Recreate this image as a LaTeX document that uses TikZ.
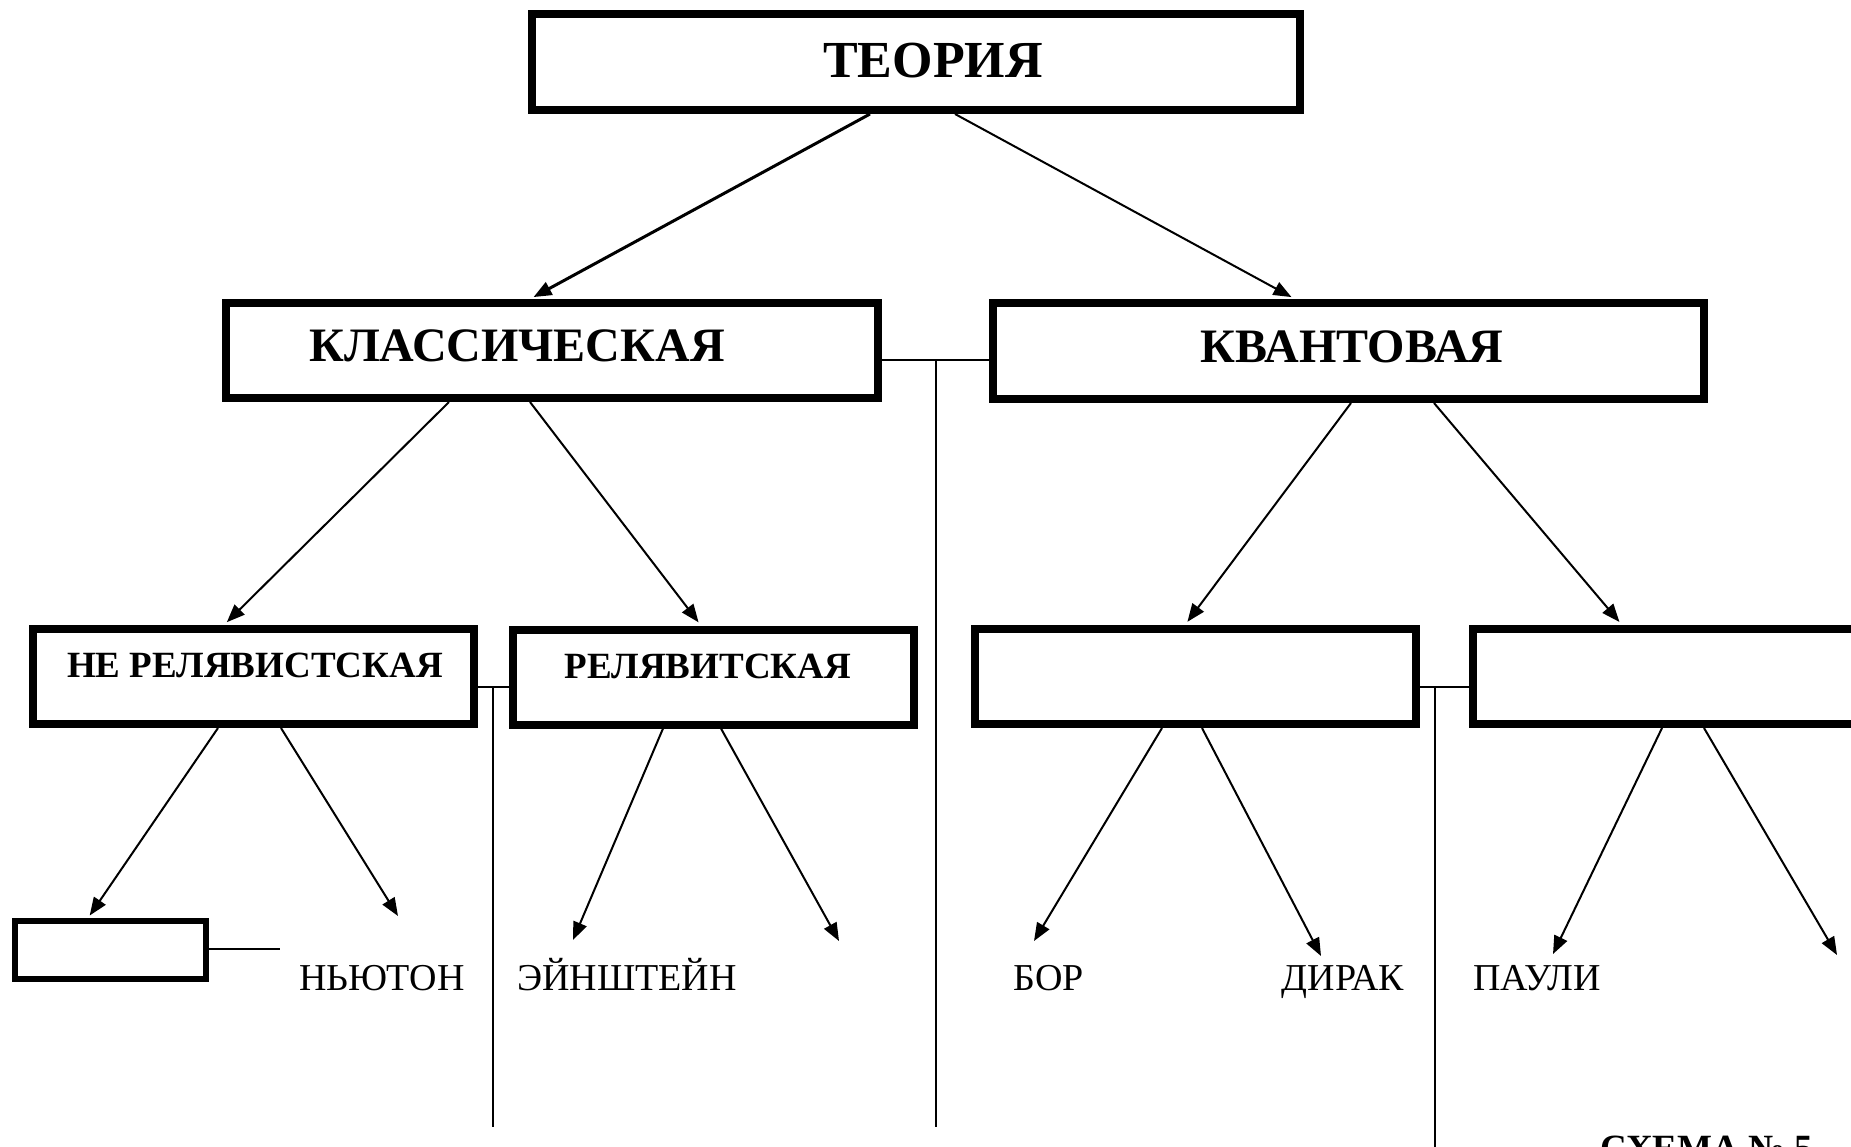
\documentclass[tikz,border=0pt]{standalone}
\usepackage{fontspec}
\setmainfont{Liberation Serif}
\usetikzlibrary{arrows.meta}
\begin{document}
\begin{tikzpicture}[x=1pt,y=-1pt,
  bigbox/.style={draw, line width=8pt, rectangle, inner sep=0pt},
  smallbox/.style={draw, line width=6pt, rectangle, inner sep=0pt},
  link/.style={line width=2pt},
  arr/.style={line width=2pt, shorten >=4pt, -{Triangle[length=18pt,width=14pt]}},
  freearr/.style={line width=2pt, -{Triangle[length=18pt,width=14pt]}},
  toplabel/.style={inner sep=0pt, anchor=base, font=\fontsize{52}{56}\selectfont\bfseries},
  midlabel/.style={inner sep=0pt, anchor=base, font=\fontsize{48}{50}\selectfont\bfseries},
  lowlabel/.style={inner sep=0pt, anchor=base, font=\fontsize{37}{40}\selectfont\bfseries},
  person/.style={inner sep=0pt, anchor=base, font=\fontsize{38}{40}\selectfont},
]
\useasboundingbox (0,0) rectangle (1851,1146);
\clip (0,0) rectangle (1851,1146);

% boxes
\node[bigbox, minimum width=768pt, minimum height=96pt] (teoria) at (916,62) {};
\node[bigbox, minimum width=652pt, minimum height=95pt] (klass) at (552,350.5) {};
\node[bigbox, minimum width=711pt, minimum height=96pt] (kvant) at (1348.5,351) {};
\node[bigbox, minimum width=441pt, minimum height=95pt] (nerel) at (253.5,676.5) {};
\node[bigbox, minimum width=401pt, minimum height=95pt] (rel) at (713.5,677) {};
\node[bigbox, minimum width=441pt, minimum height=95pt] (b1) at (1195.5,676.5) {};
\node[bigbox, minimum width=427pt, minimum height=95pt] (b2) at (1686.5,676.5) {};
\node[smallbox, minimum width=191pt, minimum height=58pt] (small) at (110.5,950) {};

% box labels
\node[toplabel] (teoria-t) at (933,77) {ТЕОРИЯ};
\node[midlabel] (klass-t) at (517,361) {КЛАССИЧЕСКАЯ};
\node[midlabel] (kvant-t) at (1352,362) {КВАНТОВАЯ};
\node[lowlabel] (nerel-t) at (255,677) {НЕ РЕЛЯВИСТСКАЯ};
\node[lowlabel] (rel-t) at (708,678) {РЕЛЯВИТСКАЯ};

% names
\node[person] (newton) at (382,990) {НЬЮТОН};
\node[person] (einstein) at (627,990) {ЭЙНШТЕЙН};
\node[person] (bohr) at (1049,990) {БОР};
\node[person] (dirac) at (1343,990) {ДИРАК};
\node[person] (pauli) at (1537,990) {ПАУЛИ};
\node[inner sep=0pt, anchor=base west, font=\fontsize{37}{40}\selectfont\bfseries] (scheme) at (1600,1160) {СХЕМА № 5};

% free ends of arrows and lines
\coordinate (e1) at (398,916);
\coordinate (e2) at (573,940);
\coordinate (e3) at (839,941);
\coordinate (e4) at (1034,941);
\coordinate (e5) at (1321,956);
\coordinate (e6) at (1553,954);
\coordinate (e7) at (1837,955);
\coordinate (j1) at (936,360);
\coordinate (j1end) at (936,1127);
\coordinate (j2) at (493,687);
\coordinate (j2end) at (493,1127);
\coordinate (j3) at (1435,687);
\coordinate (j3end) at (1435,1150);
\coordinate (s1) at (280,949);

% arrows from the top box
\draw[arr, line width=3pt] ([xshift=342pt]teoria.south west) -- ([xshift=308pt]klass.north west);
\draw[arr] ([xshift=427pt]teoria.south west) -- ([xshift=306pt]kvant.north west);

% second level
\draw[arr] ([xshift=227pt]klass.south west) -- ([xshift=195pt]nerel.north west);
\draw[arr] ([xshift=308pt]klass.south west) -- ([xshift=192pt]rel.north west);
\draw[arr] ([xshift=362pt]kvant.south west) -- ([xshift=214pt]b1.north west);
\draw[arr] ([xshift=445pt]kvant.south west) -- ([xshift=153pt]b2.north west);

% third level
\draw[arr, shorten >=3pt] ([xshift=189pt]nerel.south west) -- ([xshift=76pt]small.north west);
\draw[freearr] ([xshift=252pt]nerel.south west) -- (e1);
\draw[freearr] ([xshift=154pt]rel.south west) -- (e2);
\draw[freearr] ([xshift=212pt]rel.south west) -- (e3);
\draw[freearr] ([xshift=191pt]b1.south west) -- (e4);
\draw[freearr] ([xshift=231pt]b1.south west) -- (e5);
\draw[freearr] ([xshift=193pt]b2.south west) -- (e6);
\draw[freearr] ([xshift=235pt]b2.south west) -- (e7);

% joining lines
\draw[link] (klass.east |- j1) -- (kvant.west |- j1);
\draw[link] (j1) -- (j1end);
\draw[link] (nerel.east |- j2) -- (rel.west |- j2);
\draw[link] (j2) -- (j2end);
\draw[link] (b1.east |- j3) -- (b2.west |- j3);
\draw[link] (j3) -- (j3end);
\draw[link] (small.east |- s1) -- (s1);
\end{tikzpicture}
\end{document}
